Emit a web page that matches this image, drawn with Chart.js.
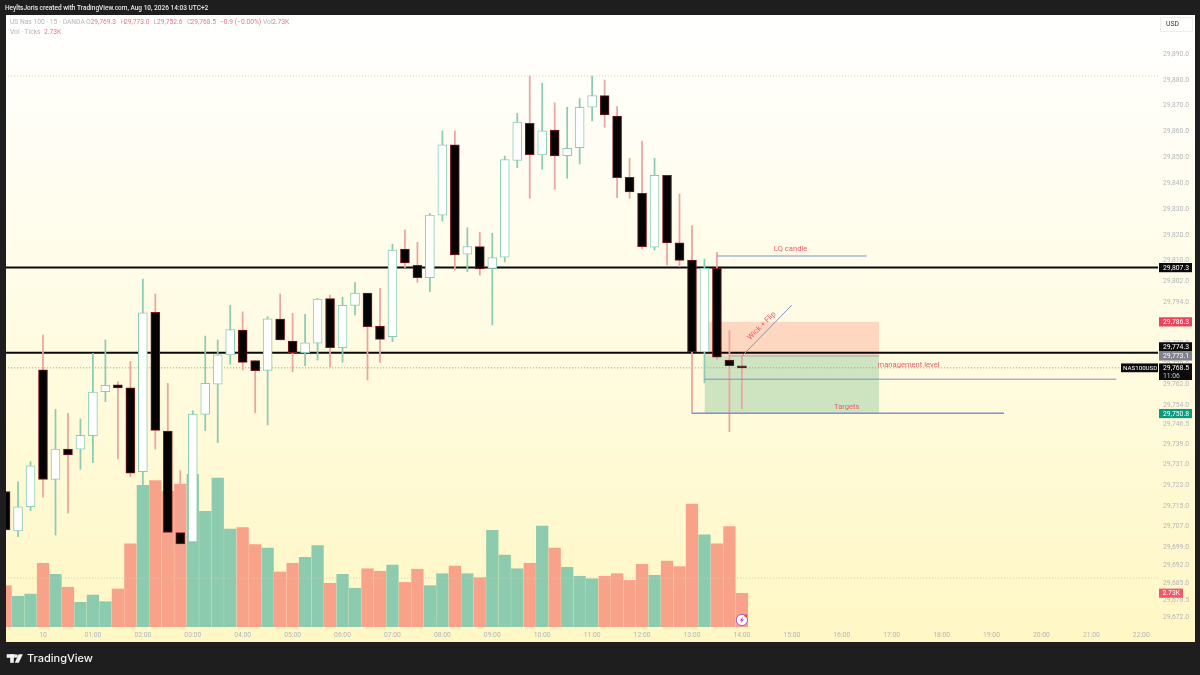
<!DOCTYPE html>
<html>
<head>
<meta charset="utf-8">
<title>US Nas 100 - 15 - OANDA</title>
<script src="https://cdn.jsdelivr.net/npm/chart.js@4"></script>
<style>
  html, body { margin: 0; padding: 0; background: #1e1e1e; }
  canvas { display: block; }
</style>
</head>
<body>
<canvas id="priceChart" width="1200" height="675"></canvas>
<script>
// 15 minute candles, first slot is 3 bars before 00:00
const firstSlot = -3;
const opens = [29720.6,29705.4,29714.7,29767.7,29725.3,29737,29737,29742.2,29759.3,29761.9,29760.8,29728.3,29790,29744,29704.7,29701.1,29750.5,29762.2,29773.5,29783.1,29771.3,29767.5,29787.4,29778.9,29774.4,29778,29795.3,29776.3,29792.7,29797.4,29784.7,29780.6,29814.5,29808.2,29803.4,29827.6,29854.8,29812.5,29815.4,29807,29811.3,29848.8,29863.2,29850.9,29860.5,29850.6,29853.7,29869.4,29873.9,29866,29842.3,29836.1,29815.2,29843,29816.9,29810.2,29774.7,29807,29771.5,29769.3];
const highs = [29720.6,29724.4,29732.2,29781.2,29752.4,29750.9,29748.7,29774.1,29779.3,29763.1,29770.9,29802.9,29797.1,29762.5,29728.7,29751.9,29780.8,29779.3,29792.7,29790.2,29771.3,29788.3,29797.1,29789.6,29789.2,29795.4,29796.7,29795.8,29801.5,29797.4,29799.3,29816.4,29821.9,29817.1,29828.3,29860.2,29860.2,29822.8,29821,29820.6,29850.5,29867,29881.5,29878.7,29871.1,29869.4,29872.8,29881.5,29879.9,29869.6,29849.6,29856.3,29849.6,29843,29835.8,29823.5,29810.6,29813.2,29782.9,29773];
const lows = [29705.7,29703.1,29713.2,29718.4,29703.8,29712.2,29729.2,29731.8,29755.4,29733.2,29726.4,29695.7,29737.1,29697.7,29687.5,29690.6,29744.2,29739.5,29769.9,29767.7,29751.1,29746.4,29779.3,29767,29769.3,29771.5,29768.9,29770.6,29789,29763.8,29770.6,29778.6,29807.3,29801.6,29798,29825.3,29806.4,29805.7,29804.4,29785.1,29809.5,29846,29834.1,29845.4,29837.6,29841.9,29847.4,29864.1,29861.6,29834.4,29834.1,29814.5,29814.1,29808.3,29807.7,29750.9,29762.7,29771.8,29743.8,29752.6];
const closes = [29705.7,29714.7,29730.6,29725.3,29737,29734.8,29742.4,29759.1,29761.7,29760.7,29727.7,29789.8,29744.3,29704.8,29700.3,29750.6,29762.5,29773.5,29783.3,29770.6,29767.4,29787.5,29779.3,29774.4,29778.2,29795.1,29776.3,29792.7,29797.4,29784.4,29779.5,29814.1,29809.1,29803.4,29827.6,29854.8,29812.2,29815.4,29806.8,29811.2,29849.1,29863.6,29851,29860.3,29850.5,29853.5,29869.4,29873.9,29866.4,29842.1,29836.6,29815.4,29843,29816.9,29810.1,29774.7,29807,29772.6,29769.3,29768.5];
// volume in thousands of ticks
const volumes = [3.35,2.49,2.67,5.16,4.27,3.22,2.0,2.59,2.05,3.08,6.75,11.48,11.86,11.0,11.59,12.37,9.38,12.07,7.94,8.05,6.67,6.4,4.46,5.16,5.65,6.59,3.54,4.27,3.14,4.72,4.51,5.02,3.61,4.68,3.35,4.32,4.94,4.32,4.0,7.84,5.83,4.72,5.16,8.18,6.4,4.84,4.11,3.91,4.11,4.32,3.78,5.08,4.19,5.35,4.89,9.97,7.48,6.75,8.13,2.73];

const priceTicks = [29890,29880,29870,29860,29850,29840,29830,29820,29810,29802,29794,29786,29778,29770,29762,29754,29746.5,29739,29731,29723,29715,29707,29699,29692,29685,29678.5,29672];
const timeSlots = [0,4,8,12,16,20,24,28,32,36,40,44,48,52,56,60,64,68,72,76,80,84,88];
const timeLabels = ["10","01:00","02:00","03:00","04:00","05:00","06:00","07:00","08:00","09:00","10:00","11:00","12:00","13:00","14:00","15:00","16:00","17:00","18:00","19:00","20:00","21:00","22:00"];

// levels and drawings on the chart, [slot, price]
const levelUpper = 29807.3;
const levelLower = 29774.3;
const dottedLevels = [29881.5, 29768.5, 29687.1];
const stopPrice = 29786.3;
const entryPrice = 29773.1;
const targetPrice = 29750.8;
const boxSlots = [53, 67];
const entryLine = [[55, 29773.1], [67, 29773.1]];
const lqLine = [[54, 29811.8], [66, 29811.8]];
const flipLine = [[56, 29773], [60, 29792.8]];
const managementLine = [[53, 29764.1], [86, 29764.1]];
const targetLine = [[52, 29750.9], [77, 29750.9]];

const noteTexts = ["LQ candle", "Wick + Flip", "management level", "Targets"];
const noteSlots = [59.9, 57.6, 69.35, 64.4];
const notePrices = [29814.3, 29784.7, 29769.4, 29753.3];
const noteAngles = [0, -45, 0, 0];

const tagTexts = ["29,807.3", "29,786.3", "29,774.3", "29,773.1", "29,750.8"];
const tagPrices = [29807.3, 29786.3, 29774.3, 29773.1, 29750.8];
const tagShift = [0, 0, -6, 0, 0];
const tagColors = ["#0b0b0b", "#f0405a", "#0b0b0b", "#80828e", "#0a9a80"];

const slots = opens.map((_, i) => firstSlot + i);
const isUp = opens.map((o, i) => closes[i] >= o);
const FONT = "Roboto, 'Noto Sans', sans-serif";
const GRAY = "#b4b6bd";
const RED = "#ee7380";

function hline(price, color, width, dash, order) {
  return {
    type: "line",
    data: [{ x: -10, y: price }, { x: 100, y: price }],
    borderColor: color,
    borderWidth: width,
    borderDash: dash,
    pointRadius: 0,
    order: order,
  };
}

function drawing(points, color, width) {
  return {
    type: "line",
    data: points.map((p) => ({ x: p[0], y: p[1] })),
    borderColor: color,
    borderWidth: width,
    pointRadius: 0,
    order: 0,
  };
}

function zone(from, to, color) {
  return {
    type: "line",
    data: boxSlots.map((s) => ({ x: s, y: from })),
    borderWidth: 0,
    pointRadius: 0,
    backgroundColor: color,
    fill: { value: to },
    order: 8,
  };
}

const frame = {
  id: "frame",
  beforeDraw(chart) {
    const ctx = chart.ctx;
    ctx.save();
    ctx.fillStyle = "#1e1e1e";
    ctx.fillRect(0, 0, 1200, 675);
    const g = ctx.createLinearGradient(0, 15, 0, 642);
    g.addColorStop(0, "#ffffff");
    g.addColorStop(0.45, "#fffce6");
    g.addColorStop(1, "#fff7c4");
    ctx.fillStyle = g;
    ctx.fillRect(6, 15, 1189, 627);
    ctx.restore();
  },
  afterDraw(chart) {
    const ctx = chart.ctx;
    const x = chart.scales.x;
    const y = chart.scales.y;
    ctx.save();
    ctx.textBaseline = "middle";

    // text notes on the drawings
    ctx.font = "7.6px " + FONT;
    ctx.fillStyle = "#e8606a";
    ctx.textAlign = "center";
    noteTexts.forEach((t, i) => {
      ctx.save();
      ctx.translate(x.getPixelForValue(noteSlots[i]), y.getPixelForValue(notePrices[i]));
      ctx.rotate((noteAngles[i] * Math.PI) / 180);
      ctx.fillText(t, 0, 0);
      ctx.restore();
    });

    // price tags
    ctx.textAlign = "left";
    ctx.font = "6.8px " + FONT;
    tagTexts.forEach((t, i) => {
      const py = y.getPixelForValue(tagPrices[i]) + tagShift[i];
      ctx.fillStyle = tagColors[i];
      ctx.fillRect(1159, py - 4.6, 33, 9.2);
      ctx.fillStyle = "#ffffff";
      ctx.fillText(t, 1163, py + 0.3);
    });

    // last price with countdown and symbol
    const lastY = y.getPixelForValue(closes[closes.length - 1]);
    ctx.fillStyle = "#0b0b0b";
    ctx.fillRect(1121, lastY - 4.4, 37, 8.8);
    ctx.fillRect(1159, lastY - 4.4, 33, 16.6);
    ctx.fillStyle = "#ffffff";
    ctx.font = "6.2px " + FONT;
    ctx.fillText("NAS100USD", 1123, lastY + 0.3);
    ctx.font = "6.8px " + FONT;
    ctx.fillText("29,768.5", 1163, lastY + 0.3);
    ctx.fillStyle = "#c8c8c8";
    ctx.fillText("11:06", 1163, lastY + 8.4);

    // last volume tag
    ctx.fillStyle = "#ef5a66";
    ctx.fillRect(1159, 588.6, 24, 9.2);
    ctx.fillStyle = "#ffffff";
    ctx.fillText("2.73K", 1162.5, 593.5);

    // currency box
    ctx.strokeStyle = "#eeeeea";
    ctx.strokeRect(1160.5, 17.5, 32, 14);
    ctx.fillStyle = "#333333";
    ctx.fillText("USD", 1166, 24.5);

    // header
    ctx.fillStyle = "#e8e8e8";
    ctx.font = "500 6.5px " + FONT;
    ctx.fillText("HeyltsJoris created with TradingView.com, Aug 10, 2026 14:03 UTC+2", 5, 8);

    // legend
    ctx.font = "6.7px " + FONT;
    const legendRow = [
      ["US Nas 100 · 15 · OANDA", 10, GRAY], ["O", 86, GRAY], ["29,769.3", 90.5, RED],
      ["H", 120.5, GRAY], ["29,773.0", 124, RED], ["L", 153.5, GRAY], ["29,752.6", 157, RED],
      ["C", 187, GRAY], ["29,768.5", 190.5, RED], ["−0.9 (−0.00%)", 220, RED],
      ["Vol", 263, GRAY], ["2.73K", 272, RED],
    ];
    legendRow.forEach((r) => {
      ctx.fillStyle = r[2];
      ctx.fillText(r[0], r[1], 22.5);
    });
    ctx.fillStyle = GRAY;
    ctx.fillText("Vol · Ticks", 10, 32);
    ctx.fillStyle = RED;
    ctx.fillText("2.73K", 44, 32);

    // footer logo
    ctx.fillStyle = "#f2f2f2";
    ctx.fillRect(6.7, 654.2, 8, 3.6);
    ctx.fillRect(10.2, 654.2, 3.6, 8.6);
    ctx.beginPath();
    ctx.arc(16, 656, 1.8, 0, Math.PI * 2);
    ctx.fill();
    ctx.beginPath();
    ctx.moveTo(18.6, 654.2);
    ctx.lineTo(22.8, 654.2);
    ctx.lineTo(18.8, 662.8);
    ctx.lineTo(14.8, 662.8);
    ctx.closePath();
    ctx.fill();
    ctx.font = "500 11px Inter, " + FONT;
    ctx.fillText("TradingView", 27, 658.8);

    // flash icon at the last bar
    const fx = x.getPixelForValue(56);
    ctx.beginPath();
    ctx.arc(fx, 620, 5.6, 0, Math.PI * 2);
    ctx.fillStyle = "#ffffff";
    ctx.fill();
    ctx.strokeStyle = "#a855d8";
    ctx.lineWidth = 1;
    ctx.stroke();
    ctx.beginPath();
    ctx.moveTo(fx + 1.4, 616.5);
    ctx.lineTo(fx - 2, 620.6);
    ctx.lineTo(fx, 620.6);
    ctx.lineTo(fx - 1.4, 623.6);
    ctx.lineTo(fx + 2, 619.4);
    ctx.lineTo(fx, 619.4);
    ctx.closePath();
    ctx.fillStyle = "#9333c8";
    ctx.fill();
    ctx.beginPath();
    ctx.arc(fx + 4, 615.8, 1.5, 0, Math.PI * 2);
    ctx.fillStyle = "#f04050";
    ctx.fill();
    ctx.restore();
  },
};

function drawPriceChart() {
  const ctx = document.getElementById("priceChart").getContext("2d");

  new Chart(ctx, {
    type: "bar",
    data: {
      datasets: [
        drawing(lqLine, "#7f92cc", 1),
        drawing(flipLine, "#7f92cc", 1),
        drawing(managementLine, "#7f92cc", 1),
        drawing(targetLine, "#7f92cc", 1.4),
        drawing(entryLine, "#a9a9a0", 1),
        {
          data: slots.map((s, i) => ({ x: s, y: [opens[i], closes[i]] })),
          backgroundColor: isUp.map((u) => (u ? "#ffffff" : "#040404")),
          borderColor: isUp.map((u) => (u ? "#8accb6" : "#7c1a22")),
          borderWidth: 1,
          borderSkipped: false,
          barThickness: 9,
          order: 1,
        },
        {
          data: slots.map((s, i) => ({ x: s, y: [lows[i], highs[i]] })),
          backgroundColor: isUp.map((u) => (u ? "#8ccbb4" : "#eba5a0")),
          barThickness: 1.1,
          order: 2,
        },
        hline(levelUpper, "#0a0a0a", 2, [], 3),
        hline(levelLower, "#0a0a0a", 2, [], 3),
        hline(dottedLevels[0], "#d2c8b4", 1, [1, 2], 4),
        hline(dottedLevels[1], "#8f9a80", 1, [1, 2], 4),
        hline(dottedLevels[2], "#d2c8b4", 1, [1, 2], 4),
        {
          data: slots.map((s, i) => ({ x: s, y: volumes[i] })),
          yAxisID: "yVol",
          backgroundColor: isUp.map((u) => (u ? "#8ccbae" : "#f9a28a")),
          barThickness: 11.6,
          order: 5,
        },
        zone(stopPrice, entryPrice, "rgba(248, 120, 100, 0.27)"),
        zone(entryPrice, targetPrice, "rgba(80, 170, 120, 0.28)"),
      ],
    },
    options: {
      responsive: false,
      animation: false,
      grouped: false,
      layout: { padding: { left: 6, top: 15, right: 5, bottom: 33 } },
      plugins: { legend: { display: false }, tooltip: { enabled: false } },
      scales: {
        x: {
          type: "linear",
          offset: false,
          min: -2.965,
          max: 89.34,
          grid: { display: false, drawTicks: false },
          border: { display: false },
          afterBuildTicks: (s) => { s.ticks = timeSlots.map((v) => ({ value: v })); },
          afterFit: (s) => { s.height = 15; },
          ticks: {
            autoSkip: false,
            maxRotation: 0,
            padding: 4,
            color: GRAY,
            font: { size: 6.8, family: FONT },
            callback: (v) => timeLabels[timeSlots.indexOf(v)],
          },
        },
        y: {
          position: "right",
          min: 29668.16,
          max: 29905.1,
          grid: { display: false, drawTicks: false },
          border: { display: false },
          afterBuildTicks: (s) => { s.ticks = priceTicks.map((v) => ({ value: v })); },
          afterFit: (s) => { s.width = 37; },
          ticks: {
            autoSkip: false,
            padding: 5,
            color: GRAY,
            font: { size: 6.8, family: FONT },
            callback: (v) => v.toLocaleString("en-US", { minimumFractionDigits: 1, maximumFractionDigits: 1 }),
          },
        },
        yVol: { display: false, min: 0, max: 49.6 },
      },
    },
    plugins: [frame],
  });
}

drawPriceChart();
</script>
</body>
</html>
